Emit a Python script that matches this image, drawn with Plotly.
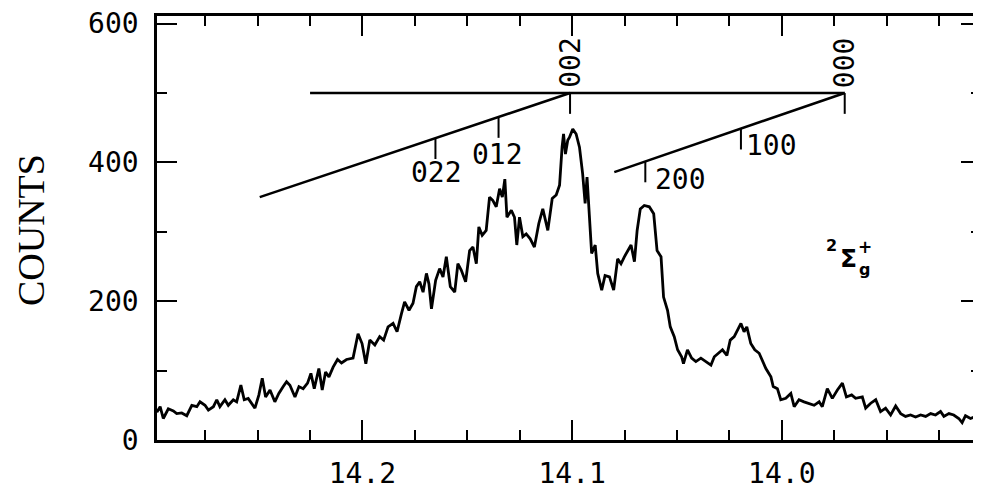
import numpy as np
import plotly.graph_objects as go

# ---------------- data ----------------
energy = [
    14.2981, 14.2965, 14.2950, 14.2926, 14.2902, 14.2886, 14.2862, 14.2838, 14.2814, 14.2790,
    14.2775, 14.2751, 14.2735, 14.2711, 14.2695, 14.2680, 14.2656, 14.2640, 14.2616, 14.2600,
    14.2580, 14.2564, 14.2545, 14.2529, 14.2513, 14.2494, 14.2478, 14.2462, 14.2441, 14.2418,
    14.2399, 14.2378, 14.2362, 14.2346, 14.2322, 14.2303, 14.2283, 14.2262, 14.2246, 14.2230,
    14.2208, 14.2192, 14.2176, 14.2160, 14.2140, 14.2119, 14.2100, 14.2076, 14.2045, 14.2021,
    14.2002, 14.1984, 14.1965, 14.1941, 14.1918, 14.1899, 14.1878, 14.1854, 14.1835, 14.1814,
    14.1799, 14.1778, 14.1759, 14.1743, 14.1727, 14.1711, 14.1695, 14.1683, 14.1671, 14.1651,
    14.1632, 14.1616, 14.1600, 14.1581, 14.1560, 14.1545, 14.1529, 14.1508, 14.1489, 14.1473,
    14.1457, 14.1445, 14.1429, 14.1410, 14.1394, 14.1378, 14.1362, 14.1346, 14.1333, 14.1321,
    14.1311, 14.1290, 14.1275, 14.1264, 14.1251, 14.1235, 14.1219, 14.1200, 14.1180, 14.1159,
    14.1140, 14.1116, 14.1095, 14.1076, 14.1060, 14.1048, 14.1041, 14.1032, 14.1021, 14.1013,
    14.0997, 14.0981, 14.0965, 14.0950, 14.0938, 14.0929, 14.0918, 14.0907, 14.0890, 14.0878,
    14.0859, 14.0843, 14.0822, 14.0802, 14.0783, 14.0767, 14.0751, 14.0732, 14.0719, 14.0703,
    14.0690, 14.0675, 14.0656, 14.0632, 14.0611, 14.0595, 14.0576, 14.0564, 14.0545, 14.0532,
    14.0513, 14.0497, 14.0478, 14.0469, 14.0450, 14.0430, 14.0410, 14.0386, 14.0362, 14.0338,
    14.0322, 14.0303, 14.0283, 14.0262, 14.0246, 14.0227, 14.0211, 14.0195, 14.0180, 14.0167,
    14.0148, 14.0129, 14.0108, 14.0092, 14.0076, 14.0052, 14.0041, 14.0021, 14.0005, 13.9981,
    13.9957, 13.9941, 13.9918, 13.9894, 13.9870, 13.9846, 13.9822, 13.9807, 13.9783, 13.9759,
    13.9735, 13.9711, 13.9692, 13.9667, 13.9648, 13.9616, 13.9600, 13.9576, 13.9552, 13.9529,
    13.9505, 13.9481, 13.9457, 13.9433, 13.9410, 13.9386, 13.9362, 13.9338, 13.9314, 13.9290,
    13.9267, 13.9243, 13.9227, 13.9203, 13.9180, 13.9156, 13.9140, 13.9124, 13.9100, 13.9076,
    13.9057,
]
counts = [
    40, 48, 31, 45, 42, 38, 39, 35, 50, 48,
    55, 50, 43, 48, 58, 48, 58, 50, 58, 55,
    79, 58, 60, 53, 46, 65, 89, 62, 72, 55,
    67, 77, 84, 79, 62, 77, 74, 82, 96, 74,
    103, 72, 98, 91, 105, 116, 111, 116, 118, 153,
    139, 110, 144, 137, 149, 144, 163, 168, 156, 182,
    199, 187, 197, 221, 228, 213, 240, 225, 189, 230,
    247, 235, 264, 221, 213, 254, 245, 228, 273, 278,
    254, 307, 295, 302, 350, 345, 336, 362, 350, 376,
    321, 331, 321, 281, 321, 293, 297, 290, 278, 312,
    333, 302, 348, 353, 367, 422, 441, 412, 432, 436,
    448, 441, 422, 384, 341, 379, 317, 269, 281, 240,
    216, 237, 235, 216, 261, 254, 264, 273, 281, 257,
    302, 333, 338, 336, 326, 273, 264, 206, 187, 163,
    149, 130, 120, 110, 130, 118, 113, 118, 113, 108,
    120, 125, 130, 122, 144, 149, 158, 168, 156, 163,
    139, 130, 125, 115, 103, 91, 77, 74, 58, 60,
    67, 48, 58, 55, 53, 50, 55, 48, 74, 60,
    72, 82, 62, 65, 60, 62, 46, 53, 58, 41,
    46, 36, 49, 38, 34, 36, 33, 36, 34, 38,
    36, 41, 34, 38, 36, 31, 25, 35, 31, 34,
    29,
]

# vibrational assignment ladders
level_y = 500                      # counts level of the horizontal reference line
level_span = [14.225, 13.970]      # extent of the horizontal line
prog_a_line_x = [14.249, 14.101]   # 0n2 progression line
prog_a_line_y = [350, 500]
prog_a_labels = ["002", "012", "022"]
prog_a_x = [14.101, 14.1351, 14.1652]
prog_b_line_x = [14.0799, 13.970]  # n00 progression line
prog_b_line_y = [386, 500]
prog_b_labels = ["000", "100", "200"]
prog_b_x = [13.970, 14.0195, 14.0651]
tick_depth = 30

x_ticks = [14.2, 14.1, 14.0]
y_ticks = [0, 200, 400, 600]

# ---------------- figure ----------------
fig = go.Figure()
fig.add_trace(go.Scatter(x=energy, y=counts, mode="lines",
                         line=dict(color="black", width=2.8), showlegend=False))

LW = 2.6
fig.add_trace(go.Scatter(x=level_span, y=[level_y, level_y], mode="lines",
                         line=dict(color="black", width=LW), showlegend=False))
fig.add_trace(go.Scatter(x=prog_a_line_x, y=prog_a_line_y, mode="lines",
                         line=dict(color="black", width=LW), showlegend=False))
fig.add_trace(go.Scatter(x=prog_b_line_x, y=prog_b_line_y, mode="lines",
                         line=dict(color="black", width=LW), showlegend=False))


def tick_segments(xs, lx, ly):
    order = np.argsort(lx)
    tx, ty = [], []
    for x in xs:
        y0 = float(np.interp(x, np.array(lx)[order], np.array(ly)[order]))
        tx += [x, x, None]
        ty += [y0, y0 - tick_depth, None]
    return tx, ty


for xs, lx, ly in [(prog_a_x, prog_a_line_x, prog_a_line_y),
                   (prog_b_x, prog_b_line_x, prog_b_line_y)]:
    tx, ty = tick_segments(xs, lx, ly)
    fig.add_trace(go.Scatter(x=tx, y=ty, mode="lines",
                             line=dict(color="black", width=2), showlegend=False))

MONO = "DejaVu Sans Mono"
LABEL_FONT = dict(family=MONO, size=28, color="black")
label_pos = {
    "002": (14.1009, 544, -90), "012": (14.1354, 411, 0), "022": (14.1648, 386, 0),
    "000": (13.9700, 544, -90), "100": (14.0049, 425, 0), "200": (14.0481, 375, 0),
}
for lab, (lx, ly, ang) in label_pos.items():
    fig.add_annotation(x=lx, y=ly, text=lab, showarrow=False, textangle=ang,
                       font=LABEL_FONT, xanchor="center", yanchor="middle")

# state label  2Σg+
fig.add_annotation(x=13.9684, y=262, text="<b>Σ</b>", showarrow=False,
                   font=dict(family="DejaVu Sans", size=25, color="black"))
fig.add_annotation(x=13.9763, y=281, text="<b>2</b>", showarrow=False,
                   font=dict(family="DejaVu Sans", size=16, color="black"))
fig.add_annotation(x=13.9601, y=278, text="<b>+</b>", showarrow=False,
                   font=dict(family="DejaVu Sans", size=17, color="black"))
fig.add_annotation(x=13.9608, y=246, text="<b>g</b>", showarrow=False,
                   font=dict(family="DejaVu Sans", size=16, color="black"))

# y axis title
fig.add_annotation(xref="paper", yref="paper", x=-0.153, y=0.495, text="COUNTS",
                   textangle=-90, showarrow=False, xanchor="center", yanchor="middle",
                   font=dict(family="Liberation Serif", size=38, color="black"))

axis_common = dict(showline=True, linecolor="black", linewidth=2.5, mirror="allticks",
                   ticks="inside", ticklen=20, tickwidth=2, tickcolor="black",
                   showgrid=False, zeroline=False, automargin=False,
                   ticklabeloverflow="allow",
                   tickfont=dict(family=MONO, size=28, color="black"))

fig.update_xaxes(range=[14.298, 13.905], tickvals=x_ticks, tickformat=".1f",
                 ticklabelstandoff=7,
                 minor=dict(ticks="inside", ticklen=10, tickwidth=2, tickcolor="black",
                            dtick=0.025, tick0=14.0, showgrid=False),
                 **axis_common)
fig.update_yaxes(range=[0, 611], tickvals=y_ticks, ticklabelstandoff=10,
                 minor=dict(ticks="inside", ticklen=10, tickwidth=2, tickcolor="black",
                            dtick=100, tick0=0, showgrid=False),
                 **axis_common)

# the page adds an 8 px body margin, so the figure is sized to fit the 981x491 window
fig.update_layout(width=973, height=483, margin=dict(l=149, r=0, t=8, b=51),
                  plot_bgcolor="white", paper_bgcolor="white", showlegend=False)

fig.write_html("out.html")
